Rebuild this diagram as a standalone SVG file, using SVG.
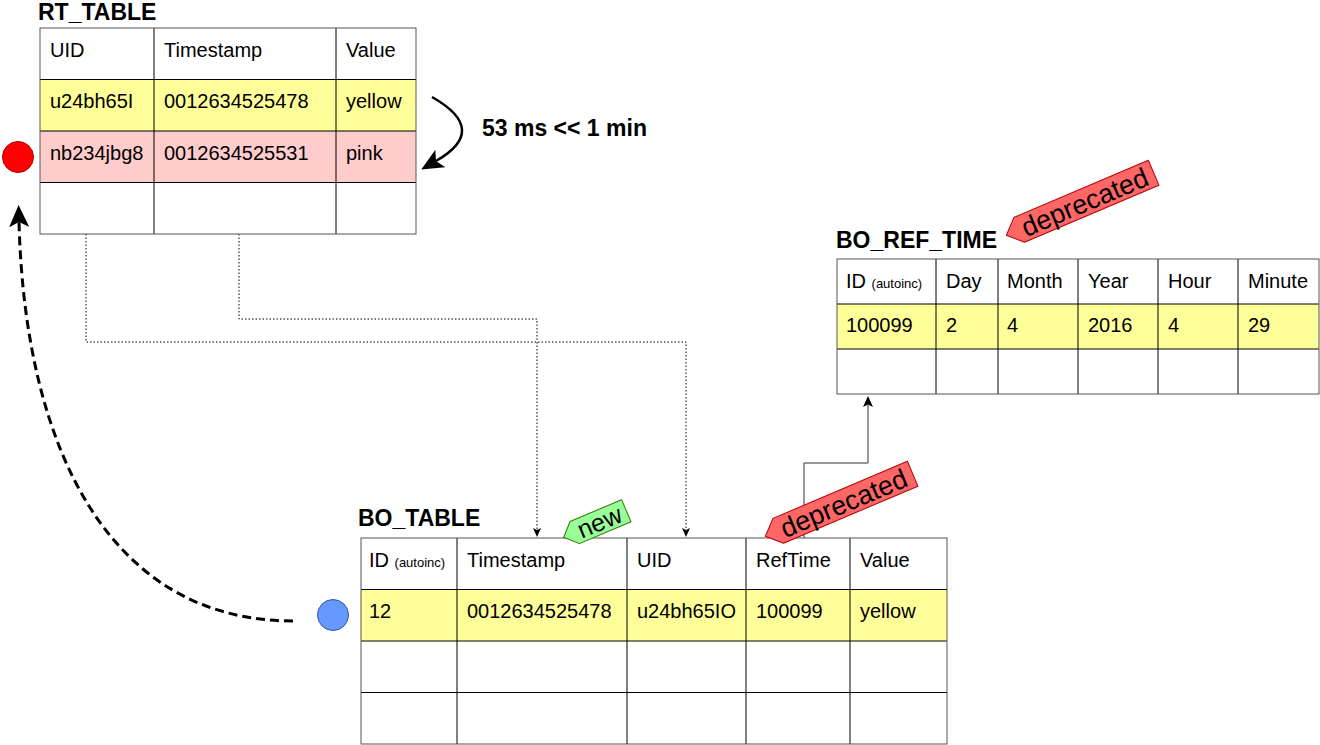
<svg xmlns="http://www.w3.org/2000/svg" width="1320" height="745" viewBox="0 0 1320 745">
<style>
.t{font-family:"Liberation Sans",Arial,sans-serif;font-size:20px;fill:#000}
.s{font-size:13px}
.title{font-family:"Liberation Sans",Arial,sans-serif;font-size:23px;font-weight:bold;fill:#000}
.grid{stroke:#000;stroke-width:1;fill:none}
.outer{stroke:#555;stroke-width:1;fill:none}
.yel{fill:#FFFF99}
.pink{fill:#FFCCCC}
.wh{fill:#FFFFFF}
.dot{stroke:#000;stroke-width:1;fill:none;stroke-dasharray:1.5 2}
.tagtxt{font-family:"Liberation Sans",Arial,sans-serif;fill:#000;text-anchor:middle}
.red{fill:#FF6666;stroke:#B20000;stroke-width:1;stroke-linejoin:round}
</style>
<defs>
<marker id="big" markerUnits="userSpaceOnUse" markerWidth="22" markerHeight="20" viewBox="0 0 22 20" refX="5" refY="10" orient="auto">
<path d="M0,0 L22,10 L0,20 L5,10 Z" fill="#000"/>
</marker>
<marker id="small" markerUnits="userSpaceOnUse" markerWidth="9" markerHeight="8" viewBox="0 0 9 8" refX="1" refY="4" orient="auto">
<path d="M0,0 L9,4 L0,8 L2,4 Z" fill="#000"/>
</marker>
<marker id="mid" markerUnits="userSpaceOnUse" markerWidth="11" markerHeight="10" viewBox="0 0 11 10" refX="2" refY="5" orient="auto">
<path d="M0,0 L11,5 L0,10 L2.5,5 Z" fill="#000"/>
</marker>
</defs>

<g id="connectors">
<path class="dot" d="M86,234 V342 H686 V529" stroke="#444" marker-end="url(#small)"/>
<path class="dot" d="M239,234 V319 H537 V529" marker-end="url(#small)"/>
<path d="M804,538 V463 H868 V405" fill="none" stroke="#333" stroke-width="1" marker-end="url(#mid)"/>
<path d="M432,97 Q490,130 436,161" fill="none" stroke="#000" stroke-width="2.5" marker-end="url(#big)"/>
<path d="M293,621 C110,621 25,450 19,222" fill="none" stroke="#000" stroke-width="3" stroke-dasharray="9 5" marker-end="url(#big)"/>
</g>

<g id="rt_table">
<text class="title" x="38" y="20">RT_TABLE</text>
<rect class="wh" x="40" y="28" width="376" height="51.5"/>
<rect class="yel" x="40" y="79.5" width="376" height="51.5"/>
<rect class="pink" x="40" y="131" width="376" height="51.5"/>
<rect class="wh" x="40" y="182.5" width="376" height="51.5"/>
<path class="grid" d="M40,79.5 H416 M40,131 H416 M40,182.5 H416 M154,28 V234 M336,28 V234"/>
<rect class="outer" x="40" y="28" width="376" height="206"/>
<text class="t" x="50" y="56.5">UID</text>
<text class="t" x="164" y="56.5">Timestamp</text>
<text class="t" x="346" y="56.5">Value</text>
<text class="t" x="50" y="108">u24bh65I</text>
<text class="t" x="164" y="108">0012634525478</text>
<text class="t" x="346" y="108">yellow</text>
<text class="t" x="50" y="159.5">nb234jbg8</text>
<text class="t" x="164" y="159.5">0012634525531</text>
<text class="t" x="346" y="159.5">pink</text>
</g>

<g id="red_dot">
<circle cx="18" cy="157" r="15.5" fill="#FF0000" stroke="#B20000" stroke-width="1"/>
</g>

<g id="blue_dot">
<circle cx="333" cy="615" r="15.5" fill="#6699FF" stroke="#3355AA" stroke-width="1"/>
</g>

<g id="label_53ms">
<text class="title" x="482" y="136">53 ms &lt;&lt; 1 min</text>
</g>

<g id="bo_ref_time">
<text class="title" x="836" y="248">BO_REF_TIME</text>
<rect class="wh" x="837" y="259" width="482" height="45"/>
<rect class="yel" x="837" y="304" width="482" height="45"/>
<rect class="wh" x="837" y="349" width="482" height="45"/>
<path class="grid" d="M837,304 H1319 M837,349 H1319 M936,259 V394 M998,259 V394 M1078,259 V394 M1158,259 V394 M1238,259 V394"/>
<rect class="outer" x="837" y="259" width="482" height="135"/>
<text class="t" x="846" y="288">ID <tspan class="s">(autoinc)</tspan></text>
<text class="t" x="946" y="288">Day</text>
<text class="t" x="1007" y="288">Month</text>
<text class="t" x="1088" y="288">Year</text>
<text class="t" x="1168" y="288">Hour</text>
<text class="t" x="1248" y="288">Minute</text>
<text class="t" x="846" y="332">100099</text>
<text class="t" x="946" y="332">2</text>
<text class="t" x="1007" y="332">4</text>
<text class="t" x="1088" y="332">2016</text>
<text class="t" x="1168" y="332">4</text>
<text class="t" x="1248" y="332">29</text>
</g>

<g id="bo_table">
<text class="title" x="358" y="526">BO_TABLE</text>
<rect class="wh" x="361" y="538" width="586" height="51.5"/>
<rect class="yel" x="361" y="589.5" width="586" height="51.5"/>
<rect class="wh" x="361" y="641" width="586" height="103"/>
<path class="grid" d="M361,589.5 H947 M361,641 H947 M361,692.5 H947 M457,538 V744 M627,538 V744 M746,538 V744 M850,538 V744"/>
<rect class="outer" x="361" y="538" width="586" height="206"/>
<text class="t" x="369" y="566.5">ID <tspan class="s">(autoinc)</tspan></text>
<text class="t" x="467" y="566.5">Timestamp</text>
<text class="t" x="637" y="566.5">UID</text>
<text class="t" x="756" y="566.5">RefTime</text>
<text class="t" x="860" y="566.5">Value</text>
<text class="t" x="369" y="618">12</text>
<text class="t" x="467" y="618">0012634525478</text>
<text class="t" x="637" y="618">u24bh65IO</text>
<text class="t" x="756" y="618">100099</text>
<text class="t" x="860" y="618">yellow</text>
</g>

<g id="tag_new" transform="translate(595,524) rotate(-23)">
<polygon points="-34,0 -22,-12 34,-12 34,12 -22,12" fill="#99FF99" stroke="#2D7600" stroke-width="1" stroke-linejoin="round"/>
<text class="tagtxt" x="5" y="8.5" font-size="25">new</text>
</g>

<g id="tag_deprecated_bo" transform="translate(839,505) rotate(-23)">
<polygon class="red" points="-80,0 -66,-13.5 80,-13.5 80,13.5 -66,13.5"/>
<text class="tagtxt" x="5" y="9.5" font-size="27">deprecated</text>
</g>

<g id="tag_deprecated_ref" transform="translate(1080,204) rotate(-23)">
<polygon class="red" points="-80,0 -66,-13.5 80,-13.5 80,13.5 -66,13.5"/>
<text class="tagtxt" x="5" y="9.5" font-size="27">deprecated</text>
</g>
</svg>
